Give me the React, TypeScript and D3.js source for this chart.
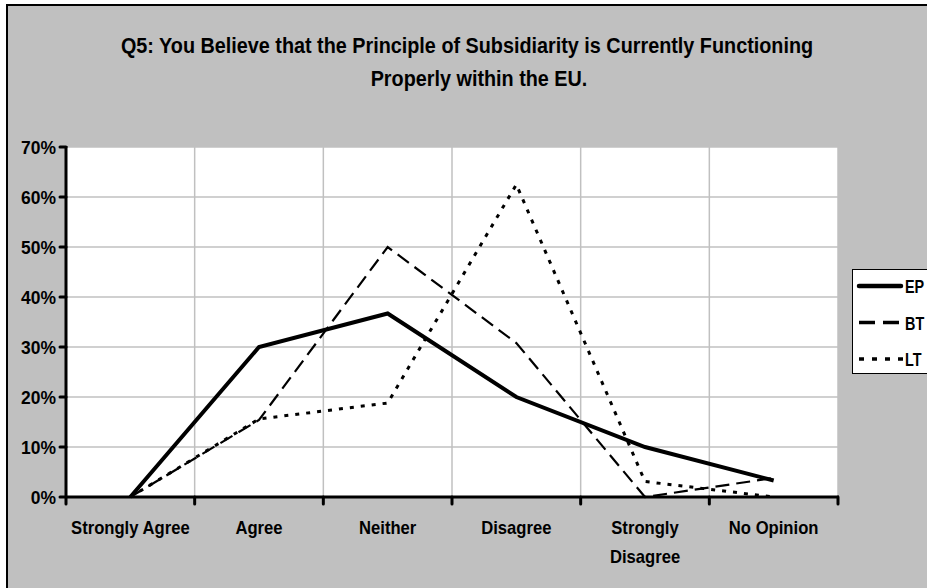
import React from "react";
import * as d3 from "d3";

const categories = ["Strongly Agree", "Agree", "Neither", "Disagree", "Strongly Disagree", "No Opinion"];
const categoryLines = [["Strongly Agree"], ["Agree"], ["Neither"], ["Disagree"], ["Strongly", "Disagree"], ["No Opinion"]];
const epValues = [0, 30, 36.7, 20, 10, 3.3];
const btValues = [0, 15.4, 50, 30.8, 0, 3.8];
const ltValues = [0, 15.6, 18.8, 62.5, 3.1, 0];
const yTicks = [0, 10, 20, 30, 40, 50, 60, 70];
const seriesNames = ["EP", "BT", "LT"];
const titleLines = [
  "Q5: You Believe that the Principle of Subsidiarity is Currently Functioning",
  "Properly within the EU.",
];

const W = 927;
const H = 588;
const FONT = "'Liberation Sans', Arial, sans-serif";

function NText(props: {
  x: number;
  y: number;
  size: number;
  sx: number;
  anchor?: "start" | "middle" | "end";
  children: React.ReactNode;
}) {
  return (
    <text
      transform={`translate(${props.x},${props.y}) scale(${props.sx},1)`}
      textAnchor={props.anchor || "start"}
      fontFamily={FONT}
      fontWeight="bold"
      fontSize={props.size}
      fill="#000"
    >
      {props.children}
    </text>
  );
}

export default function App() {
  const left = 66, right = 838, top = 147, bottom = 497;
  const x = d3.scaleBand<string>().domain(categories).range([left, right]);
  const y = d3.scaleLinear().domain([0, 70]).range([bottom, top]);
  const cx = (c: string) => (x(c) as number) + x.bandwidth() / 2;
  const line = d3
    .line<number>()
    .x((_, i) => cx(categories[i]))
    .y((d) => y(d));

  const series = [
    { name: seriesNames[0], values: epValues, width: 4, dash: "none" },
    { name: seriesNames[1], values: btValues, width: 2.2, dash: "14 7" },
    { name: seriesNames[2], values: ltValues, width: 3, dash: "4 7" },
  ];
  const legendDash = ["none", "16 8", "5 8"];
  const legendW = [4.5, 3.5, 3.5];

  const boundaries = categories.map((c) => x(c) as number).concat([right]);
  const titleX = [467, 479];

  return (
    <svg width={W} height={H} style={{ position: "absolute", left: 0, top: 0, display: "block" }}>
      <rect x={0} y={0} width={W} height={H} fill="#ffffff" />
      <rect x={7} y={5} width={W + 20} height={H + 20} fill="#C0C0C0" stroke="#000" strokeWidth={2} />
      {titleLines.map((t, i) => (
        <NText key={i} x={titleX[i]} y={53 + i * 33} size={22.5} sx={0.88} anchor="middle">
          {t}
        </NText>
      ))}
      <rect x={left} y={top} width={right - left} height={bottom - top} fill="#fff" />
      {yTicks.map((t) => (
        <line key={"gy" + t} x1={left} x2={right} y1={y(t)} y2={y(t)} stroke="#C0C0C0" strokeWidth={1.5} />
      ))}
      {boundaries.slice(1).map((b, i) => (
        <line key={"gx" + i} x1={b} x2={b} y1={top} y2={bottom} stroke="#C0C0C0" strokeWidth={1.5} />
      ))}
      {series.map((s) => (
        <path
          key={s.name}
          d={line(s.values) as string}
          fill="none"
          stroke="#000"
          strokeWidth={s.width}
          strokeDasharray={s.dash}
          strokeLinejoin="miter"
        />
      ))}
      <line x1={left} x2={left} y1={top - 1} y2={bottom + 1} stroke="#000" strokeWidth={3} />
      <line x1={left - 1} x2={right + 1} y1={bottom} y2={bottom} stroke="#000" strokeWidth={3} />
      {yTicks.map((t) => (
        <g key={"ty" + t}>
          <line x1={left - 6} x2={left} y1={y(t)} y2={y(t)} stroke="#000" strokeWidth={3} strokeLinecap="round" />
          <NText x={left - 10} y={y(t) + 6.5} size={19} sx={0.92} anchor="end">
            {t + "%"}
          </NText>
        </g>
      ))}
      {boundaries.map((b, i) => (
        <line key={"tx" + i} x1={b} x2={b} y1={bottom} y2={bottom + 7} stroke="#000" strokeWidth={3} strokeLinecap="round" />
      ))}
      {categories.map((c, i) =>
        categoryLines[i].map((l, j) => (
          <NText key={"lx" + c + j} x={cx(c)} y={534 + j * 29} size={18.5} sx={0.9} anchor="middle">
            {l}
          </NText>
        ))
      )}
      <rect x={852.5} y={269.5} width={100} height={104} fill="#fff" stroke="#000" strokeWidth={1} />
      {seriesNames.map((n, i) => {
        const ly = 286 + i * 36.5;
        return (
          <g key={"lg" + n}>
            <line
              x1={859}
              x2={i === 0 ? 901 : 903}
              y1={ly}
              y2={ly}
              stroke="#000"
              strokeWidth={legendW[i]}
              strokeDasharray={legendDash[i]}
              strokeLinecap={i === 0 ? "round" : "butt"}
            />
            <NText x={905} y={ly + 7} size={18} sx={0.8}>
              {n}
            </NText>
          </g>
        );
      })}
    </svg>
  );
}
